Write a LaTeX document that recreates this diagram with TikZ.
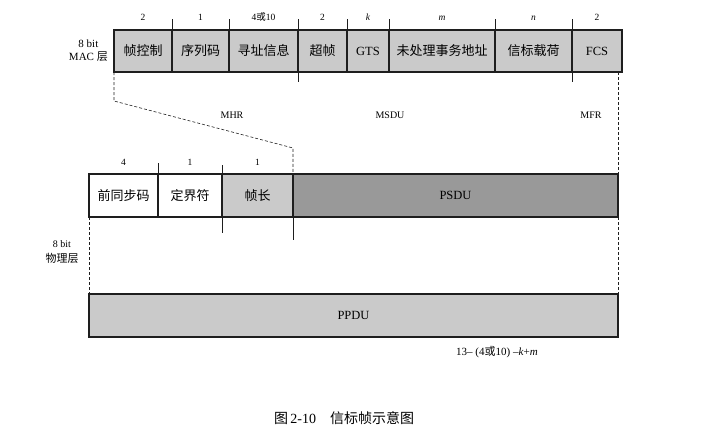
\documentclass[tikz,border=0pt]{standalone}
\usepackage{fontspec}
\setmainfont{Liberation Serif}
\newfontfamily\cjk{Noto Sans CJK SC}
\usetikzlibrary{positioning}
\definecolor{fieldA}{RGB}{202,202,202}
\definecolor{fieldB}{RGB}{153,153,153}
\definecolor{edge}{RGB}{30,30,30}

\begin{document}
\begin{tikzpicture}[x=1pt,y=-1pt,
                  cell/.style={draw=edge,line width=1.2pt,minimum height=42pt,inner sep=0pt,outer sep=0pt,font=\cjk\fontsize{13}{15}\selectfont},
                  num/.style={inner sep=0pt,font=\fontsize{9.5}{11}\selectfont},
                  lbl/.style={inner sep=0pt,font=\fontsize{10}{12}\selectfont},
                  lat/.style={font=\rmfamily\fontsize{12.5}{14}\selectfont},
                  tick/.style={edge,line width=1pt},
                  dsh/.style={edge,dash pattern=on 3pt off 2pt,line width=0.6pt}
                ]
                \useasboundingbox (0,0) rectangle (712,432);

                % MAC frame
                \node[cell,fill=fieldA,minimum width=58pt,anchor=north west] (f1) at (114,30) {帧控制};
                \node[cell,fill=fieldA,minimum width=57pt,right=0pt of f1] (f2) {序列码};
                \node[cell,fill=fieldA,minimum width=69pt,right=0pt of f2] (f3) {寻址信息};
                \node[cell,fill=fieldA,minimum width=49pt,right=0pt of f3] (f4) {超帧};
                \node[cell,lat,fill=fieldA,minimum width=42pt,right=0pt of f4] (f5) {GTS};
                \node[cell,fill=fieldA,minimum width=106pt,right=0pt of f5] (f6) {未处理事务地址};
                \node[cell,fill=fieldA,minimum width=77pt,right=0pt of f6] (f7) {信标载荷};
                \node[cell,lat,fill=fieldA,minimum width=50pt,right=0pt of f7] (f8) {FCS};
                \node[lbl,align=center,font=\fontsize{11}{13}\selectfont,left=6pt of f1] (mac) {8 bit\\MAC {\cjk 层}};

                \node[num,above=9pt of f1] (n1) {2};
                \node[num,above=9pt of f2] (n2) {1};
                \node[num,above=9pt of f3] (n3) {4{\cjk 或}10};
                \node[num,above=9pt of f4] (n4) {2};
                \node[num,above=9pt of f5] (n5) {\textit{k}};
                \node[num,above=9pt of f6] (n6) {\textit{m}};
                \node[num,above=9pt of f7] (n7) {\textit{n}};
                \node[num,above=9pt of f8] (n8) {2};

                \foreach \f in {f1,f2,f3,f4,f5,f6,f7}
                  \draw[tick] (\f.north east) -- ++(0,-11);
                \draw[tick] (f3.south east) -- ++(0,10);
                \draw[tick] (f7.south east) -- ++(0,10);

                \node[lbl] (mhr) at (232,115) {MHR};
                \node[lbl] (msdu) at (390,115) {MSDU};
                \node[lbl] (mfr) at (591,115) {MFR};

                % PHY frame
                \node[cell,fill=white,minimum width=69pt,minimum height=43pt,anchor=north west] (p1) at (89,174) {前同步码};
                \node[cell,fill=white,minimum width=64pt,minimum height=43pt,right=0pt of p1] (p2) {定界符};
                \node[cell,fill=fieldA,minimum width=71pt,minimum height=43pt,right=0pt of p2] (p3) {帧长};
                \node[cell,lat,fill=fieldB,minimum width=325pt,minimum height=43pt,right=0pt of p3] (p4) {PSDU};

                \node[num,above=8pt of p1] (m1) {4};
                \node[num,above=8pt of p2] (m2) {1};
                \node[num,above=8pt of p3] (m3) {1};

                \draw[tick] (p1.north east) -- ++(0,-11);
                \draw[tick] (p2.north east) -- ++(0,-9);
                \draw[tick] (p2.south east) -- ++(0,16);
                \draw[tick] (p3.south east) -- ++(0,23);

                \node[lbl,align=center] (phy) at (62,252) {8 bit\\[3pt]{\cjk\fontsize{11}{12}\selectfont 物理层}};

                \node[cell,lat,fill=fieldA,minimum width=529pt,minimum height=43pt,anchor=north west] (ppdu) at (89,294) {PPDU};

                \draw[dsh] (f1.south west) -- ++(0,29) -- ([yshift=26pt]p3.north east) -- (p3.north east);
                \draw[dsh] (p4.north east |- f8.south) -- (ppdu.north east);
                \draw[dsh] (p1.south west) -- (ppdu.north west);

                \node[lbl,font=\fontsize{11}{13}\selectfont] (len) at (497,352) {13-- (4{\cjk 或}10) --\textit{k}+\textit{m}};
                \node[font=\cjk\fontsize{14}{16}\selectfont] (cap) at (344,418) {图\,{\rmfamily 2-10}\quad 信标帧示意图};
                \end{tikzpicture}
\end{document}
